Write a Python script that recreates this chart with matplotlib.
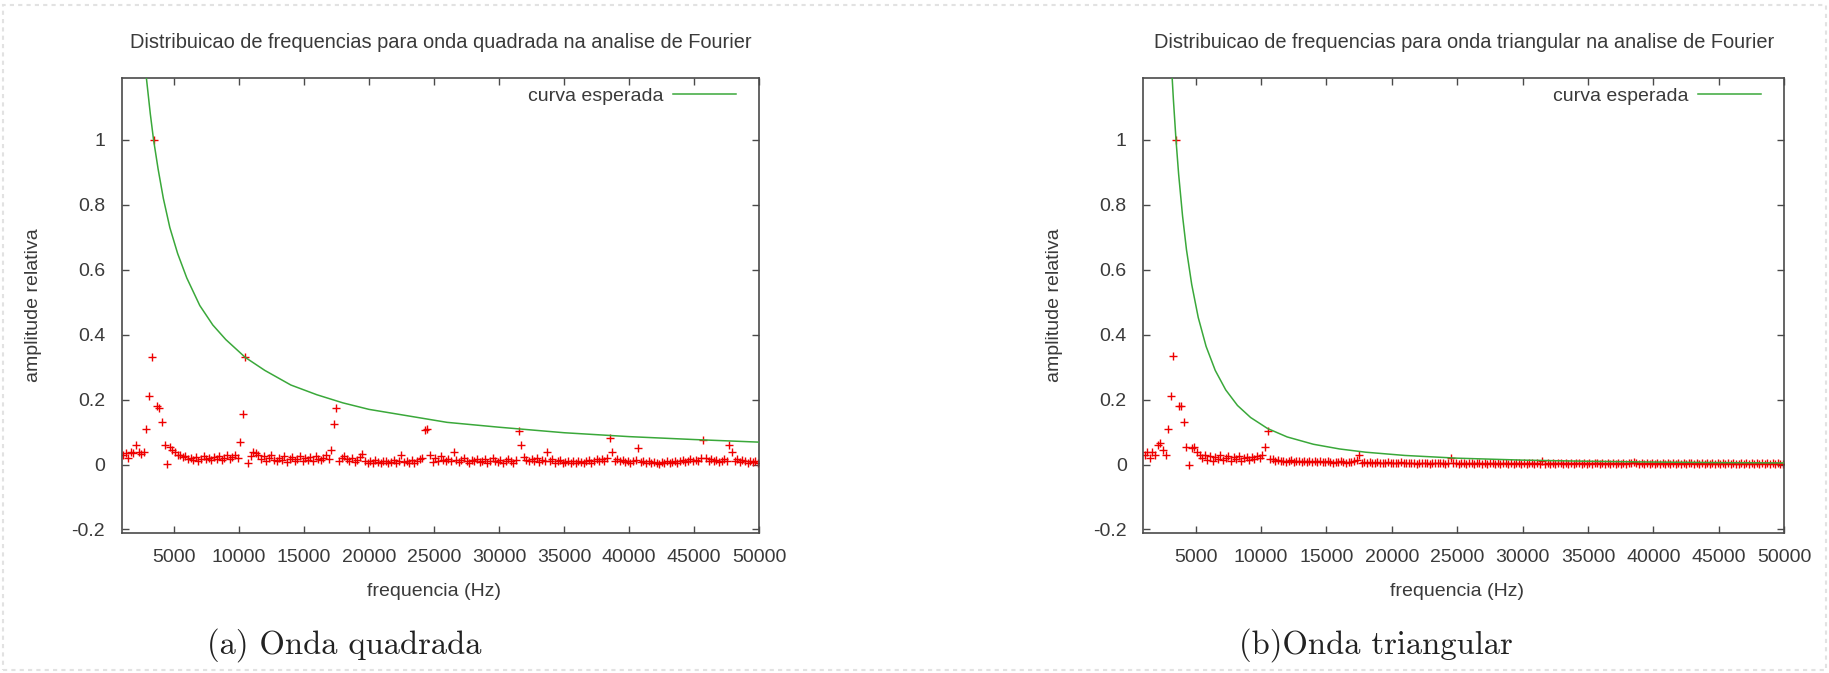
import numpy as np
import matplotlib
matplotlib.use("Agg")
import matplotlib.pyplot as plt
from matplotlib.lines import Line2D

plt.rcParams['font.family'] = ['Liberation Sans', 'DejaVu Sans']

# eixo de frequencias da FFT (Hz)
freq_inicio = 1100
freq_passo = 200

# amplitudes relativas - onda quadrada
amp_quadrada = [
    0.030, 0.035, 0.020, 0.040, 0.035, 0.060, 0.040, 0.034, 0.040, 0.110, 0.210, 0.330, 1.000, 0.180, 0.175, 0.130, 0.060, 0.003, 0.055, 0.045, 0.040,
    0.030, 0.028, 0.022, 0.025, 0.018, 0.020, 0.015, 0.022, 0.012, 0.018, 0.025, 0.016, 0.020, 0.013, 0.022, 0.018, 0.025, 0.015, 0.020, 0.028, 0.018, 0.022, 0.030, 0.020,
    0.070, 0.155, 0.330, 0.004, 0.025, 0.040,
    0.035, 0.030, 0.018, 0.025, 0.012, 0.020, 0.028, 0.015, 0.010, 0.020, 0.014, 0.025, 0.008, 0.018, 0.022, 0.012, 0.016, 0.025, 0.010, 0.020, 0.015, 0.022, 0.012, 0.026, 0.018, 0.014, 0.020, 0.028, 0.016,
    0.044, 0.125, 0.175, 0.010, 0.020,
    0.025, 0.018, 0.012, 0.020, 0.008, 0.015, 0.022, 0.034, 0.010, 0.005, 0.012, 0.006, 0.015, 0.008, 0.004, 0.010, 0.012, 0.006, 0.009, 0.014, 0.005, 0.010, 0.029, 0.008, 0.012, 0.006, 0.015, 0.004, 0.010, 0.016, 0.020,
    0.105, 0.110, 0.029,
    0.008, 0.020, 0.012, 0.025, 0.015, 0.010, 0.018, 0.012, 0.039, 0.015, 0.008, 0.014, 0.020, 0.010, 0.006, 0.015, 0.012, 0.018, 0.008, 0.010, 0.016, 0.006, 0.012, 0.020, 0.010, 0.008, 0.015, 0.005, 0.012, 0.018, 0.010, 0.006, 0.014,
    0.104, 0.060, 0.023,
    0.015, 0.010, 0.018, 0.012, 0.020, 0.008, 0.014, 0.010, 0.039, 0.012, 0.018, 0.006, 0.010, 0.014, 0.005, 0.008, 0.012, 0.004, 0.010, 0.006, 0.012, 0.008, 0.005, 0.010, 0.014, 0.006, 0.012, 0.016, 0.010, 0.018, 0.012, 0.020,
    0.083, 0.040,
    0.012, 0.018, 0.010, 0.015, 0.008, 0.012, 0.006, 0.010, 0.014, 0.050,
    0.008, 0.012, 0.005, 0.010, 0.004, 0.008, 0.006, 0.003, 0.008, 0.005, 0.010, 0.004, 0.007, 0.012, 0.006, 0.010, 0.014, 0.008, 0.012, 0.018, 0.010, 0.015, 0.012, 0.020,
    0.075, 0.020, 0.012, 0.018, 0.010, 0.014, 0.008, 0.012, 0.016, 0.010, 0.060, 0.040, 0.012, 0.018, 0.008, 0.014, 0.010, 0.006, 0.012, 0.008, 0.010, 0.006,
]

# amplitudes relativas - onda triangular
amp_triangular = [
    0.030, 0.040, 0.020, 0.038, 0.030, 0.060, 0.065, 0.045, 0.030, 0.110, 0.210, 0.335, 1.000, 0.180, 0.180, 0.130, 0.055, 0.000, 0.050, 0.055, 0.040,
    0.030, 0.020, 0.028, 0.015, 0.025, 0.012, 0.022, 0.018, 0.028, 0.014, 0.020, 0.025, 0.012, 0.022, 0.016, 0.026, 0.012, 0.020, 0.024, 0.014, 0.022, 0.018, 0.026, 0.020, 0.028,
    0.055, 0.104, 0.018,
    0.016, 0.012, 0.014, 0.010, 0.012, 0.008, 0.011, 0.013, 0.009, 0.012, 0.010, 0.008, 0.011, 0.009, 0.012, 0.007, 0.010, 0.008, 0.011, 0.009, 0.007, 0.010, 0.008, 0.006, 0.009, 0.007, 0.010, 0.008, 0.006, 0.009, 0.007, 0.010,
    0.015, 0.030,
    0.006, 0.008, 0.005, 0.007, 0.004, 0.006, 0.008, 0.005, 0.006, 0.004, 0.007, 0.005, 0.006, 0.004, 0.005, 0.007, 0.004, 0.006,
    0.005, 0.004, 0.006, 0.003, 0.005, 0.004, 0.006, 0.005, 0.003, 0.005, 0.004, 0.006, 0.004, 0.005, 0.003, 0.005, 0.020, 0.006,
    0.004, 0.003, 0.005, 0.004, 0.003, 0.005, 0.004, 0.003, 0.004, 0.005, 0.003, 0.004, 0.003, 0.005, 0.004, 0.003, 0.004, 0.003,
    0.005, 0.004, 0.003, 0.004, 0.003, 0.005, 0.004, 0.003, 0.004, 0.003, 0.004, 0.005, 0.003, 0.004, 0.003, 0.012, 0.003, 0.004,
    0.003, 0.004, 0.003, 0.005, 0.004, 0.003, 0.004, 0.003, 0.004, 0.003, 0.005, 0.004, 0.003, 0.004, 0.003, 0.004, 0.003, 0.004,
    0.004, 0.003, 0.004, 0.003, 0.005, 0.003, 0.004, 0.003, 0.004, 0.003, 0.004, 0.003, 0.005, 0.004, 0.008, 0.004, 0.003, 0.004,
    0.003, 0.004, 0.003, 0.004, 0.003, 0.004, 0.003, 0.005, 0.003, 0.004, 0.003, 0.004, 0.003, 0.004, 0.003, 0.004, 0.003, 0.004,
    0.004, 0.003, 0.004, 0.003, 0.004, 0.003, 0.004, 0.003, 0.004, 0.003, 0.005, 0.003, 0.004, 0.003, 0.004, 0.003, 0.004, 0.003,
    0.003, 0.004, 0.003, 0.004, 0.003, 0.004, 0.003, 0.004, 0.003, 0.004, 0.003, 0.004, 0.003, 0.004, 0.003, 0.004, 0.003, 0.003,
]

# curva esperada (1/n para a quadrada, 1/n^2 para a triangular)
curva_q_f = [2900, 3200, 3450, 3800, 4200, 4700, 5300, 6000, 7000, 8000, 9000, 10500, 12000, 14000,
             16000, 18000, 20000, 23000, 26000, 30000, 35000, 40000, 45000, 50000]
curva_q_y = [1.19, 1.08, 1.00, 0.91, 0.82, 0.73, 0.65, 0.575, 0.49, 0.43, 0.385, 0.33, 0.29, 0.245,
             0.215, 0.19, 0.17, 0.15, 0.13, 0.115, 0.098, 0.086, 0.077, 0.069]
curva_t_f = [3200, 3300, 3500, 3700, 4000, 4300, 4700, 5200, 5800, 6500, 7300, 8200, 9200, 10500,
             12000, 14000, 16000, 18000, 21000, 25000, 30000, 35000, 40000, 45000, 50000]
curva_t_y = [1.196, 1.125, 1.0, 0.895, 0.766, 0.662, 0.555, 0.453, 0.364, 0.29, 0.23, 0.182, 0.145, 0.111,
             0.085, 0.0625, 0.048, 0.038, 0.028, 0.0196, 0.0136, 0.010, 0.0077, 0.006, 0.0049]

x_ticks = [5000, 10000, 15000, 20000, 25000, 30000, 35000, 40000, 45000, 50000]
y_ticks = [-0.2, 0, 0.2, 0.4, 0.6, 0.8, 1]
y_tick_labels = ['-0.2', '0', '0.2', '0.4', '0.6', '0.8', '1']

titulos = ['Distribuicao de frequencias para onda quadrada na analise de Fourier',
           'Distribuicao de frequencias para onda triangular na analise de Fourier']
legendas = ['(a) Onda quadrada', '(b)Onda triangular']

cor_texto = '#3a3a3a'
cor_eixo = '#4a4a4a'

W, H = 1829, 673
fig = plt.figure(figsize=(W / 100, H / 100), dpi=100)
fig.patch.set_facecolor('white')

# moldura tracejada clara em volta da pagina
fig.add_artist(plt.Rectangle((3 / W, 3 / H), 1 - 6 / W, 1 - 8 / H, transform=fig.transFigure,
                             fill=False, ec='#e2e2e2', lw=1.5, ls=(0, (2, 2))))

ax1 = fig.add_axes([121.7 / W, 1 - 532.7 / H, 637.6 / W, 454.4 / H])
ax2 = fig.add_axes([1143.3 / W, 1 - 532.7 / H, 641 / W, 454.4 / H])


def desenhar_painel(ax, amplitudes, cf, cy, titulo):
    amplitudes = np.array(amplitudes)
    freqs = freq_inicio + freq_passo * np.arange(len(amplitudes))
    ax.plot(freqs, amplitudes, ls='none', marker='+', ms=6.2, mew=1.0, color='#ee0000', zorder=2)
    ax.plot(cf, cy, color='#3aa83a', lw=1.1, zorder=3)

    ax.set_xlim(1000, 50000)
    ax.set_ylim(-0.21, 1.19)
    ax.set_xticks(x_ticks)
    ax.set_xticklabels([str(t) for t in x_ticks])
    ax.set_yticks(y_ticks)
    ax.set_yticklabels(y_tick_labels)
    ax.tick_params(direction='in', length=5, width=1, top=True, right=True,
                   labelsize=14, pad=12, colors=cor_eixo, labelcolor=cor_texto)
    for s in ax.spines.values():
        s.set_color(cor_eixo)
        s.set_linewidth(1.2)

    ax.set_title(titulo, fontsize=14.4, color=cor_texto, pad=22)
    ax.set_xlabel('frequencia (Hz)', fontsize=14, color=cor_texto)
    ax.set_ylabel('amplitude relativa', fontsize=14, color=cor_texto)
    ax.xaxis.set_label_coords(0.49, -0.11)
    ax.yaxis.set_label_coords(-0.125, 0.5)

    h = Line2D([], [], color='#3aa83a', lw=1.1)
    ax.legend([h], ['curva esperada'], loc='upper right', bbox_to_anchor=(0.963, 0.98),
              frameon=False, markerfirst=False, fontsize=14, handlelength=3.2,
              handletextpad=0.5, borderpad=0, borderaxespad=0, labelcolor=cor_texto)


desenhar_painel(ax1, amp_quadrada, curva_q_f, curva_q_y, titulos[0])
desenhar_painel(ax2, amp_triangular, curva_t_f, curva_t_y, titulos[1])

# legendas das subfiguras
fig.text(344 / W, 1 - 645 / H, legendas[0], ha='center', va='center', fontsize=23.5,
         family='cmr10', color='#222222')
fig.text(1376 / W, 1 - 645 / H, legendas[1], ha='center', va='center', fontsize=23.5,
         family='cmr10', color='#222222')

plt.savefig('out.png', dpi=100, facecolor='white')
